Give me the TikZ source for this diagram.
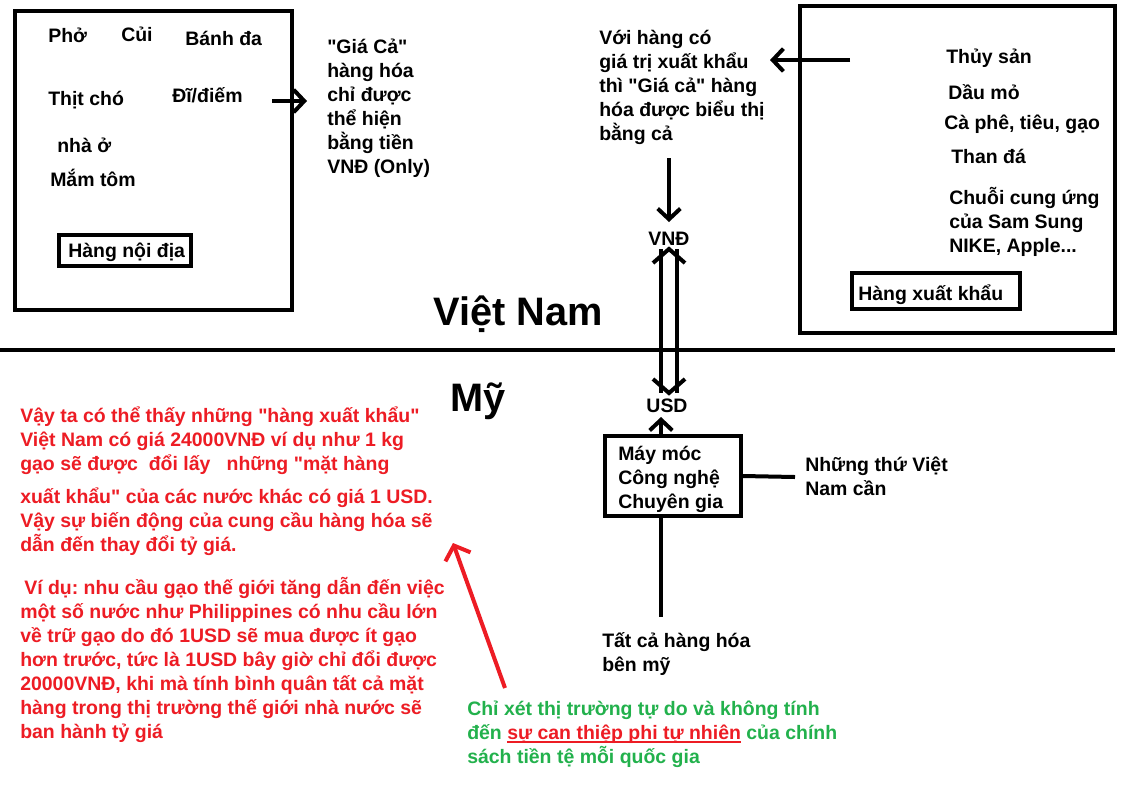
\documentclass[tikz,border=0pt]{standalone}
\usepackage{fontspec}
\setmainfont{Liberation Sans}[Ligatures=TeXOff]
\usetikzlibrary{arrows.meta}
\definecolor{pred}{RGB}{237,28,36}
\definecolor{pgreen}{RGB}{34,177,76}
\newcommand{\redul}[1]{\setbox0\hbox{#1}\rlap{\raisebox{-3.2pt}{\rule{\wd0}{1.4pt}}}\box0}
\begin{document}
\frenchspacing
\begin{tikzpicture}[x=0.75pt,y=-0.75pt,
  txt/.style={font=\fontsize{14.6}{18}\selectfont\bfseries\frenchspacing, inner sep=0pt, align=left, anchor=base west},
  title/.style={font=\fontsize{29.8}{36}\selectfont\bfseries, inner sep=0pt},
  bigbox/.style={draw, line width=3pt, inner sep=0pt},
  tagbox/.style={draw, line width=3pt, inner sep=0pt},
  thickline/.style={line width=3pt},
  arr/.style={line width=3pt, -{Straight Barb[length=8pt,width=17pt]}},
  redarr/.style={line width=3pt, pred, -{Straight Barb[length=9pt,width=20pt]}}]
\useasboundingbox (0,0) rectangle (1124,794);
\fill[white] (0,0) rectangle (1124,794);

% left box
\node[bigbox, minimum width=207.75pt, minimum height=224.25pt] (dom) at (153.5,160.5) {};
\node[txt] (pho) at (48,42) {Phở};
\node[txt] (cui) at (121,41) {Củi};
\node[txt] (banhda) at (185,45) {Bánh đa};
\node[txt] (thitcho) at (48,105) {Thịt chó};
\node[txt] (didiem) at (172,102) {Đĩ/điếm};
\node[txt] (nhao) at (57,152) {nhà ở};
\node[txt] (mamtom) at (50,186) {Mắm tôm};
\node[tagbox, minimum width=99pt, minimum height=23.25pt] (noidiabox) at (125,250.5) {};
\node[txt] (noidia) at (68,257) {Hàng nội địa};

\coordinate (a1s) at (272,101);
\coordinate (a1e) at (307,101);
\draw[arr] (a1s) -- (a1e);
\node[txt] (giaca) at (327,173) {"Giá Cả"\\hàng hóa\\chỉ được\\thể hiện\\bằng tiền\\VNĐ (Only)};

% right box
\node[bigbox, minimum width=236.25pt, minimum height=245pt] (exp) at (957,169.5) {};
\node[txt] (thuysan) at (946,63) {Thủy sản};
\node[txt] (daumo) at (948,99) {Dầu mỏ};
\node[txt] (caphe) at (944,129) {Cà phê, tiêu, gạo};
\node[txt] (thanda) at (951,163) {Than đá};
\node[txt] (chuoi) at (949,252) {Chuỗi cung ứng\\của Sam Sung\\NIKE, Apple...};
\node[tagbox, minimum width=126pt, minimum height=27pt] (xkbox) at (935.5,291) {};
\node[txt] (xk) at (858,300) {Hàng xuất khẩu};

\node[txt] (voi) at (599,140) {Với hàng có\\giá trị xuất khẩu\\thì "Giá cả" hàng\\hóa được biểu thị\\bằng cả};
\coordinate (a2s) at (850,60);
\coordinate (a2e) at (770,60);
\draw[arr] (a2s) -- (a2e);

\coordinate (a3s) at (669,158);
\coordinate (a3e) at (669,222);
\draw[arr] (a3s) -- (a3e);
\node[txt, anchor=center] (vnd) at (669,239) {VNĐ};

% divider
\coordinate (divl) at (0,350);
\coordinate (divr) at (1115,350);
\draw[thickline] (divl) -- (divr);
\node[title] (vn) at (518,314) {Việt Nam};
\node[title] (my) at (478,401) {Mỹ};

% double arrow
\node[txt, anchor=center] (usd) at (667,406) {USD};
\coordinate (dtop) at (669,249);
\coordinate (dbot) at (669,393);
\draw[thickline] ([xshift=-6pt]dtop) -- ([xshift=-6pt]dbot);
\draw[thickline] ([xshift=6pt]dtop) -- ([xshift=6pt]dbot);
\draw[thickline] ([xshift=-12pt,yshift=-10.5pt]dtop) -- (dtop) -- ([xshift=12pt,yshift=-10.5pt]dtop);
\draw[thickline] ([xshift=-12pt,yshift=10.5pt]dbot) -- (dbot) -- ([xshift=12pt,yshift=10.5pt]dbot);

% machines box
\node[bigbox, minimum width=102pt, minimum height=60pt] (mm) at (673,476) {};
\node[txt] (mmtxt) at (618,508) {Máy móc\\Công nghệ\\Chuyên gia};
\coordinate (usdtip) at (661,417);
\draw[arr] ([xshift=-9pt]mm.north) -- (usdtip);
\coordinate (needend) at (795,477);
\draw[thickline] (mm.east) -- (needend);
\node[txt] (need) at (805,495) {Những thứ Việt\\Nam cần};
\coordinate (allend) at (661,617);
\draw[thickline] ([xshift=-9pt]mm.south) -- (allend);
\node[txt] (all) at (602,671) {Tất cả hàng hóa\\bên mỹ};

% red text
\node[txt, text=pred] (red) at (20,738) {Vậy ta có thể thấy những "hàng xuất khẩu"\\
Việt Nam có giá 24000VNĐ ví dụ như 1 kg\\
gạo sẽ được\ \ đổi lấy\ \ \ những "mặt hàng\\[7pt]
xuất khẩu" của các nước khác có giá 1 USD.\\
Vậy sự biến động của cung cầu hàng hóa sẽ\\
dẫn đến thay đổi tỷ giá.\\[14pt]
\hspace{3pt}Ví dụ: nhu cầu gạo thế giới tăng dẫn đến việc\\
một số nước như Philippines có nhu cầu lớn\\
về trữ gạo do đó 1USD sẽ mua được ít gạo\\
hơn trước, tức là 1USD bây giờ chỉ đổi được\\
20000VNĐ, khi mà tính bình quân tất cả mặt\\
hàng trong thị trường thế giới nhà nước sẽ\\
ban hành tỷ giá};

% green text
\node[txt, text=pgreen] (green) at (467,763) {Chỉ xét thị trường tự do và không tính\\
đến {\color{pred}\redul{sự can thiệp phi tự nhiên}} của chính\\
sách tiền tệ mỗi quốc gia};
\coordinate (ras) at (505,688);
\coordinate (rae) at (453,543);
\draw[redarr] (ras) -- (rae);
\end{tikzpicture}
\end{document}
